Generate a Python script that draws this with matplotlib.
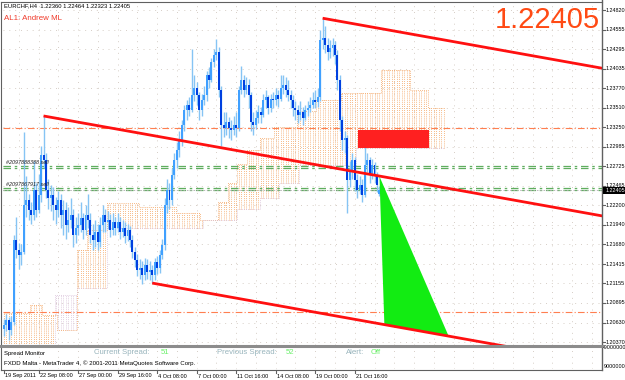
import matplotlib
matplotlib.use('Agg')
import matplotlib.pyplot as plt
import numpy as np
from matplotlib.patches import Rectangle, Polygon

# ---------------- data ----------------
header_text = "EURCHF,H4  1.22360 1.22464 1.22323 1.22405"
indicator_text = "AL1: Andrew ML"
big_price_text = "1.22405"
last_price = 1.22405

opens = [1.2055, 1.2060, 1.2067, 1.2053, 1.2064, 1.2174, 1.2160, 1.2154, 1.2158, 1.2221,
         1.2227, 1.2214, 1.2207, 1.2241, 1.2214, 1.2234, 1.2288, 1.2281, 1.2241, 1.2230,
         1.2234, 1.2221, 1.2214, 1.2227, 1.2207, 1.2214, 1.2194, 1.2201, 1.2207, 1.2181,
         1.2190, 1.2194, 1.2203, 1.2187, 1.2207, 1.2201, 1.2181, 1.2174, 1.2185, 1.2171,
         1.2194, 1.2207, 1.2198, 1.2201, 1.2187, 1.2198, 1.2190, 1.2198, 1.2185, 1.2190,
         1.2179, 1.2187, 1.2174, 1.2158, 1.2147, 1.2134, 1.2136, 1.2127, 1.2140, 1.2131,
         1.2134, 1.2127, 1.2144, 1.2136, 1.2154, 1.2167, 1.2221, 1.2241, 1.2227, 1.2261,
         1.2281, 1.2294, 1.2308, 1.2328, 1.2348, 1.2355, 1.2348, 1.2368, 1.2377, 1.2368,
         1.2348, 1.2361, 1.2368, 1.2395, 1.2388, 1.2412, 1.2422, 1.2426, 1.2375, 1.2328,
         1.2324, 1.2332, 1.2324, 1.2321, 1.2328, 1.2324, 1.2375, 1.2388, 1.2375, 1.2382,
         1.2368, 1.2332, 1.2328, 1.2337, 1.2345, 1.2341, 1.2361, 1.2365, 1.2351, 1.2363,
         1.2361, 1.2368, 1.2363, 1.2377, 1.2382, 1.2375, 1.2368, 1.2361, 1.2351, 1.2348,
         1.2341, 1.2345, 1.2337, 1.2348, 1.2351, 1.2355, 1.2361, 1.2359, 1.2365, 1.2442,
         1.2444, 1.2435, 1.2426, 1.2431, 1.2435, 1.2422, 1.2388, 1.2335, 1.2308, 1.2310,
         1.2254, 1.2268, 1.2281, 1.2254, 1.2241, 1.2248, 1.2234, 1.2274, 1.2281, 1.2261,
         1.2274, 1.2261, 1.2236]
closes = [1.2060, 1.2067, 1.2053, 1.2064, 1.2174, 1.2160, 1.2154, 1.2158, 1.2221, 1.2227,
          1.2214, 1.2207, 1.2241, 1.2214, 1.2234, 1.2288, 1.2281, 1.2241, 1.2230, 1.2234,
          1.2221, 1.2214, 1.2227, 1.2207, 1.2214, 1.2194, 1.2201, 1.2207, 1.2181, 1.2190,
          1.2194, 1.2203, 1.2187, 1.2207, 1.2201, 1.2181, 1.2174, 1.2185, 1.2171, 1.2194,
          1.2207, 1.2198, 1.2201, 1.2187, 1.2198, 1.2190, 1.2198, 1.2185, 1.2190, 1.2179,
          1.2187, 1.2174, 1.2158, 1.2147, 1.2134, 1.2136, 1.2127, 1.2140, 1.2131, 1.2134,
          1.2127, 1.2144, 1.2136, 1.2154, 1.2167, 1.2221, 1.2241, 1.2227, 1.2261, 1.2281,
          1.2294, 1.2308, 1.2328, 1.2348, 1.2355, 1.2348, 1.2368, 1.2377, 1.2368, 1.2348,
          1.2361, 1.2368, 1.2395, 1.2388, 1.2412, 1.2422, 1.2426, 1.2375, 1.2328, 1.2324,
          1.2332, 1.2324, 1.2321, 1.2328, 1.2324, 1.2375, 1.2388, 1.2375, 1.2382, 1.2368,
          1.2332, 1.2328, 1.2337, 1.2345, 1.2341, 1.2361, 1.2365, 1.2351, 1.2363, 1.2361,
          1.2368, 1.2363, 1.2377, 1.2382, 1.2375, 1.2368, 1.2361, 1.2351, 1.2348, 1.2341,
          1.2345, 1.2337, 1.2348, 1.2351, 1.2355, 1.2361, 1.2359, 1.2365, 1.2442, 1.2444,
          1.2435, 1.2426, 1.2431, 1.2435, 1.2422, 1.2388, 1.2335, 1.2308, 1.2310, 1.2254,
          1.2268, 1.2281, 1.2254, 1.2241, 1.2248, 1.2234, 1.2274, 1.2281, 1.2261, 1.2274,
          1.2261, 1.2248, 1.22405]
highs = [1.2068, 1.2075, 1.2070, 1.2072, 1.2180, 1.2205, 1.2170, 1.2168, 1.2319, 1.2260,
         1.2235, 1.2225, 1.2280, 1.2250, 1.2262, 1.2300, 1.2340, 1.2290, 1.2255, 1.2248,
         1.2245, 1.2232, 1.2240, 1.2235, 1.2228, 1.2225, 1.2218, 1.2230, 1.2215, 1.2205,
         1.2210, 1.2225, 1.2210, 1.2220, 1.2235, 1.2210, 1.2195, 1.2200, 1.2195, 1.2205,
         1.2220, 1.2215, 1.2212, 1.2208, 1.2210, 1.2205, 1.2210, 1.2205, 1.2200, 1.2198,
         1.2195, 1.2192, 1.2180, 1.2165, 1.2155, 1.2148, 1.2145, 1.2150, 1.2148, 1.2145,
         1.2140, 1.2150, 1.2152, 1.2160, 1.2175, 1.2230, 1.2255, 1.2250, 1.2270, 1.2290,
         1.2305, 1.2320, 1.2335, 1.2355, 1.2362, 1.2365, 1.2430, 1.2395, 1.2385, 1.2372,
         1.2370, 1.2380, 1.2400, 1.2405, 1.2418, 1.2430, 1.2443, 1.2432, 1.2380, 1.2345,
         1.2345, 1.2338, 1.2335, 1.2340, 1.2345, 1.2380, 1.2407, 1.2395, 1.2392, 1.2390,
         1.2372, 1.2345, 1.2348, 1.2355, 1.2352, 1.2370, 1.2375, 1.2368, 1.2370, 1.2372,
         1.2378, 1.2375, 1.2395, 1.2395, 1.2392, 1.2388, 1.2375, 1.2368, 1.2360, 1.2355,
         1.2360, 1.2352, 1.2355, 1.2360, 1.2365, 1.2372, 1.2375, 1.2378, 1.2455, 1.2471,
         1.2460, 1.2445, 1.2442, 1.2445, 1.2440, 1.2428, 1.2395, 1.2340, 1.2320, 1.2315,
         1.2280, 1.2290, 1.2285, 1.2262, 1.2260, 1.2255, 1.2300, 1.2290, 1.2285, 1.2282,
         1.2278, 1.2265, 1.22464]
lows = [1.2045, 1.2052, 1.2040, 1.2046, 1.2060, 1.2150, 1.2135, 1.2140, 1.2155, 1.2205,
        1.2200, 1.2195, 1.2200, 1.2205, 1.2210, 1.2225, 1.2270, 1.2230, 1.2215, 1.2212,
        1.2200, 1.2195, 1.2205, 1.2190, 1.2180, 1.2175, 1.2185, 1.2190, 1.2165, 1.2170,
        1.2180, 1.2185, 1.2175, 1.2180, 1.2190, 1.2170, 1.2160, 1.2165, 1.2160, 1.2165,
        1.2185, 1.2185, 1.2188, 1.2178, 1.2180, 1.2180, 1.2185, 1.2175, 1.2178, 1.2170,
        1.2172, 1.2165, 1.2150, 1.2138, 1.2125, 1.2122, 1.2115, 1.2120, 1.2122, 1.2120,
        1.2116, 1.2120, 1.2128, 1.2130, 1.2148, 1.2160, 1.2210, 1.2215, 1.2220, 1.2255,
        1.2270, 1.2285, 1.2300, 1.2320, 1.2335, 1.2340, 1.2345, 1.2360, 1.2355, 1.2335,
        1.2340, 1.2355, 1.2360, 1.2378, 1.2385, 1.2405, 1.2415, 1.2365, 1.2300, 1.2312,
        1.2315, 1.2310, 1.2308, 1.2315, 1.2312, 1.2320, 1.2370, 1.2365, 1.2370, 1.2350,
        1.2320, 1.2315, 1.2322, 1.2330, 1.2330, 1.2338, 1.2350, 1.2342, 1.2345, 1.2350,
        1.2355, 1.2352, 1.2360, 1.2370, 1.2365, 1.2360, 1.2350, 1.2340, 1.2335, 1.2330,
        1.2335, 1.2328, 1.2335, 1.2340, 1.2345, 1.2350, 1.2350, 1.2352, 1.2360, 1.2430,
        1.2425, 1.2415, 1.2418, 1.2420, 1.2410, 1.2375, 1.2320, 1.2295, 1.2290, 1.2210,
        1.2245, 1.2255, 1.2240, 1.2230, 1.2235, 1.2225, 1.2232, 1.2265, 1.2250, 1.2255,
        1.2250, 1.2238, 1.22323]

# Ichimoku cloud (Senkou spans), read as steps: start bar of each flat segment
span_a_bars = [0, 11, 16, 22, 30, 34, 42, 55, 70, 80, 87, 91, 95, 99, 104, 110, 119, 127,
               137, 153, 165, 172]
span_a_vals = [1.2076, 1.2087, 1.2073, 1.2053, 1.2160, 1.2187, 1.2223, 1.2218, 1.2210, 1.2200,
               1.2225, 1.2250, 1.2275, 1.2295, 1.2310, 1.2325, 1.2347, 1.2361, 1.2371, 1.2402,
               1.2375, 1.2350]
span_b_bars = [0, 21, 30, 42, 81, 95, 104, 112, 120, 143]
span_b_vals = [1.1900, 1.2100, 1.2110, 1.2190, 1.2200, 1.2215, 1.2230, 1.2250, 1.2274, 1.2297]

ytick_values = [1.24820, 1.24555, 1.24295, 1.24035, 1.23770, 1.23510, 1.23250, 1.22985,
                1.22725, 1.22465, 1.22200, 1.21940, 1.21680, 1.21415, 1.21155, 1.20895,
                1.20630, 1.20370]
xtick_bars = [0, 14, 30, 46, 62, 78, 94, 110, 126, 142]
xtick_labels = ["19 Sep 2011", "22 Sep 08:00", "27 Sep 00:00", "29 Sep 16:00", "4 Oct 08:00",
                "7 Oct 00:00", "11 Oct 16:00", "14 Oct 08:00", "19 Oct 00:00", "21 Oct 16:00"]

orange_levels = [1.23239, 1.20773]
order_levels = [1.22730, 1.22430]
order_labels = ["#2097888388 sell", "#2097867917 sell"]

# Andrews pitchfork pivots (bar, price): handle, upper pivot, lower pivot
pf_bars = [16, 129, 60]
pf_prices = [1.2340, 1.2471, 1.2116]

# target triangle and zone box
tri_bars = [152, 154, 180]
tri_prices = [1.2259, 1.2060, 1.2045]
box_bars = [143.4, 172]
box_prices = [1.2297, 1.2321]

spread_texts = [("Current Spread:", "51"), ("Previous Spread:", "52"), ("Alert:", "Off")]
footer_text = "FXDD Malta - MetaTrader 4, \u00a9 2001-2011 MetaQuotes Software Corp."
sub_scale_labels = ["-9000000", "9000000"]

# ---------------- figure ----------------
W, H = 625, 380
fig = plt.figure(figsize=(W / 100, H / 100), dpi=100)
fig.patch.set_facecolor('white')
FONT = 'Liberation Sans'
AXIS_X = 602.0
BAR_PX = 2.47

def fx(px):
    return px / W

def fy(py):
    return 1 - py / H

ax = fig.add_axes([fx(3), fy(345), fx(AXIS_X - 3), 342 / H])
sub = fig.add_axes([fx(3), fy(369), fx(AXIS_X - 3), 21 / H])
for a in (ax, sub):
    a.set_facecolor('white')
    for s in a.spines.values():
        s.set_visible(False)
    a.set_xticks([])
    a.set_yticks([])

YMIN, YMAX = 1.20330, 1.24914
XMIN = (3 - 4) / BAR_PX
XMAX = (AXIS_X - 4) / BAR_PX
ax.set_xlim(XMIN, XMAX)
ax.set_ylim(YMIN, YMAX)
sub.set_xlim(XMIN, XMAX)
sub.set_ylim(0, 1)

def ypix(v):
    return 3 + (YMAX - v) / (YMAX - YMIN) * 342

# grid (dotted)
grid_col = '#d6cec6'
gls = (0, (1, 5))
for v in ytick_values:
    ax.axhline(v, color=grid_col, lw=0.7, ls=gls, zorder=0)
for b in np.arange(6, 245, 8):
    ax.axvline(b, color=grid_col, lw=0.7, ls=gls, zorder=0)
    sub.axvline(b, color=grid_col, lw=0.7, ls=gls, zorder=0)

# Ichimoku cloud as dotted histogram
nb = 179
def steps(bars, vals):
    out = np.empty(nb)
    for k, b0 in enumerate(bars):
        b1 = bars[k + 1] if k + 1 < len(bars) else nb
        out[b0:b1] = vals[k]
    return out
sa = steps(span_a_bars, span_a_vals)
sb = steps(span_b_bars, span_b_vals)
xs = np.arange(nb)
for i in range(nb):
    col = '#f4a460' if sa[i] >= sb[i] else '#d8bfd8'
    ax.vlines(i, min(sa[i], sb[i]), max(sa[i], sb[i]), colors=col, lw=0.6,
              linestyles=(0, (1, 1.5)), zorder=1)
ax.plot(xs, sa, color='#f4a460', lw=0.6, ls=(0, (1, 1.5)), drawstyle='steps-mid', zorder=1)
ax.plot(xs, sb, color='#d8bfd8', lw=0.6, ls=(0, (1, 1.5)), drawstyle='steps-mid', zorder=1)

# horizontal levels
for v in orange_levels:
    ax.axhline(v, color='#ff7f50', lw=0.8, ls=(0, (6, 2, 1, 2)), zorder=2)
for v, lab in zip(order_levels, order_labels):
    ax.axhline(v, color='#5fae5f', lw=0.9, ls=(0, (6, 3, 2, 3)), zorder=2)
    ax.axhline(v - 0.00021, color='#5fae5f', lw=0.9, ls=(0, (6, 3, 2, 3)), zorder=2)
    ax.text(0.8, v + 0.00012, lab, fontsize=3.9, fontstyle='italic', family=FONT,
            color='#202020', va='bottom', ha='left', zorder=6)
ax.axhline(last_price, color='#b0b0b0', lw=0.6, ls=(0, (2, 2)), zorder=2)

# candles
wick_col = '#86c4f4'
up_col = '#40a0ff'
dn_col = '#0040e0'
for i in range(len(closes)):
    o, c, h, l = opens[i], closes[i], highs[i], lows[i]
    ax.vlines(i, l, h, colors=wick_col, lw=1.0, zorder=3)
    col = up_col if c >= o else dn_col
    lo, hi = min(o, c), max(o, c)
    ax.add_patch(Rectangle((i - 0.4, lo), 0.8, max(hi - lo, 0.00004), facecolor=col,
                           edgecolor='none', zorder=4))

# pitchfork
hb, ub, lb = pf_bars
hp, up_, lp = pf_prices
mid_b = (ub + lb) / 2
mid_p = (up_ + lp) / 2
slope = (mid_p - hp) / (mid_b - hb)
xe = XMAX + 5
for b0, p0 in ((hb, hp), (ub, up_), (lb, lp)):
    ax.plot([b0, xe], [p0, p0 + slope * (xe - b0)], color='#ff1010', lw=2.0, zorder=5,
            solid_capstyle='butt')

# triangle and box
ax.add_patch(Polygon(list(zip(tri_bars, tri_prices)), closed=True, facecolor='#12ec12',
                     edgecolor='none', zorder=4))
ax.add_patch(Rectangle((box_bars[0], box_prices[0]), box_bars[1] - box_bars[0],
                       box_prices[1] - box_prices[0], facecolor='#ff2020', edgecolor='none',
                       zorder=4))

# texts in main window
fig.text(fx(4), fy(6), header_text, fontsize=4.2, family=FONT, color='black', va='center', ha='left')
fig.text(fx(4), fy(19), indicator_text, fontsize=5.7, family=FONT, color='#f03a2a', va='center', ha='left')
fig.text(fx(600), fy(20), big_price_text, fontsize=21, family=FONT, color='#ff4a14', va='center', ha='right')

# frame lines
fig.add_artist(plt.Line2D([fx(AXIS_X), fx(AXIS_X)], [fy(0), fy(370)], color='#606060', lw=1.0))
fig.add_artist(plt.Line2D([fx(1.5), fx(1.5)], [fy(1.5), fy(370)], color='#606060', lw=0.8))
fig.add_artist(plt.Line2D([fx(1.5), fx(AXIS_X)], [fy(1.5), fy(1.5)], color='#606060', lw=0.8))
fig.add_artist(plt.Line2D([fx(1.5), fx(AXIS_X)], [fy(345.8), fy(345.8)], color='#8c8c8c', lw=2.2))
fig.add_artist(plt.Line2D([fx(1.5), fx(AXIS_X)], [fy(369.5), fy(369.5)], color='#606060', lw=0.8))

# y-axis labels
for v in ytick_values:
    py = ypix(v)
    fig.add_artist(plt.Line2D([fx(AXIS_X), fx(AXIS_X + 2.5)], [fy(py), fy(py)], color='#606060', lw=0.8))
    fig.text(fx(AXIS_X + 3.5), fy(py), f"{v:.5f}", fontsize=3.9, family=FONT, color='black',
             va='center', ha='left')
# current price label
py = ypix(last_price)
fig.patches.append(Rectangle((fx(AXIS_X + 0.5), fy(py + 3.6)), fx(W - AXIS_X), 7.2 / H,
                             transform=fig.transFigure, facecolor='black', edgecolor='none',
                             figure=fig, zorder=5))
fig.text(fx(AXIS_X + 3.5), fy(py), f"{last_price:.5f}", fontsize=3.9, family=FONT, color='white',
         va='center', ha='left', zorder=6)

# x-axis labels
for b, lab in zip(xtick_bars, xtick_labels):
    px = 4 + b * BAR_PX
    fig.add_artist(plt.Line2D([fx(px), fx(px)], [fy(370), fy(373)], color='#606060', lw=0.8))
    fig.text(fx(px + 1.2), fy(376), lab, fontsize=4.0, family=FONT, color='black',
             va='center', ha='left')

# sub window texts
fig.text(fx(3.5), fy(353), "Spread Monitor", fontsize=4.3, family=FONT, color='black', va='center', ha='left')
label_x = [94, 217, 346]
value_x = [161, 286, 371]
for (lab, val), lx, vx in zip(spread_texts, label_x, value_x):
    fig.text(fx(lx), fy(353), lab, fontsize=5.6, family=FONT, color='#98b4bc', va='center', ha='left')
    fig.text(fx(vx), fy(353), val, fontsize=5.6, family=FONT, color='#6cf06c', va='center', ha='left')
fig.text(fx(3.5), fy(363.5), footer_text, fontsize=4.4, family=FONT, color='black', va='center', ha='left')
fig.text(fx(AXIS_X + 1), fy(347.5), sub_scale_labels[0], fontsize=3.9, family=FONT, color='black', va='center', ha='left')
fig.text(fx(AXIS_X + 2), fy(367), sub_scale_labels[1], fontsize=3.9, family=FONT, color='black', va='center', ha='left')

fig.savefig('out.png', dpi=100, facecolor='white')
